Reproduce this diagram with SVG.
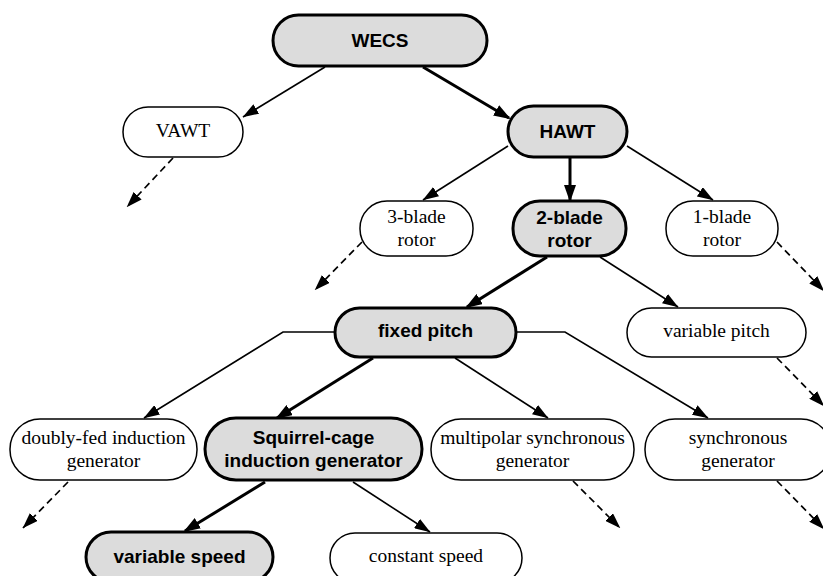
<svg xmlns="http://www.w3.org/2000/svg" width="823" height="576" viewBox="0 0 823 576">
  <defs>
    <marker id="head" viewBox="0 0 16 11" markerUnits="userSpaceOnUse" markerWidth="16" markerHeight="11" refX="15.5" refY="5.5" orient="auto">
      <path d="M0,0 L16,5.5 L0,11 Z" fill="#000"/>
    </marker>
    <marker id="headBold" viewBox="0 0 17 12" markerUnits="userSpaceOnUse" markerWidth="17" markerHeight="12" refX="15" refY="6" orient="auto">
      <path d="M0,0 L17,6 L0,12 Z" fill="#000"/>
    </marker>
  </defs>
  <style>
    .box { fill: #fff; stroke: #000; stroke-width: 1.5; }
    .key { fill: #dcdcdc; stroke: #000; stroke-width: 3; }
    .serif { font-family: "Liberation Serif", "Times New Roman", serif; font-size: 19.5px; fill: #000; text-anchor: middle; }
    .bold { font-family: "Liberation Sans", Arial, sans-serif; font-weight: bold; font-size: 19px; fill: #000; text-anchor: middle; }
    .thin { fill: none; stroke: #000; stroke-width: 1.6; marker-end: url(#head); }
    .thick { fill: none; stroke: #000; stroke-width: 3; marker-end: url(#headBold); }
    .open { fill: none; stroke: #000; stroke-width: 1.7; stroke-dasharray: 7 4.5; marker-end: url(#head); }
  </style>
  <rect width="823" height="576" fill="#fff"/>

  <!-- connectors -->
  <g id="connectors">
    <line class="thin" x1="325" y1="67" x2="243" y2="117"/>
    <line class="thick" x1="423" y1="67" x2="509" y2="118"/>
    <line class="open" x1="173" y1="158" x2="127" y2="207"/>
    <line class="thin" x1="508" y1="146" x2="423" y2="200"/>
    <line class="thick" x1="570" y1="157" x2="570" y2="200"/>
    <line class="thin" x1="627" y1="146" x2="713" y2="200"/>
    <line class="open" x1="362" y1="242" x2="315" y2="290"/>
    <line class="open" x1="777" y1="242" x2="824" y2="291"/>
    <line class="thick" x1="547" y1="257" x2="467" y2="307"/>
    <line class="thin" x1="600" y1="257" x2="678" y2="307"/>
    <polyline class="thin" points="335,332 283,332 144,418"/>
    <line class="thick" x1="373" y1="358" x2="277" y2="418"/>
    <line class="thin" x1="455" y1="358" x2="548" y2="418"/>
    <polyline class="thin" points="516,332 565,332 708,418"/>
    <line class="open" x1="777" y1="358" x2="824" y2="406"/>
    <line class="open" x1="68" y1="482" x2="23" y2="528"/>
    <line class="thick" x1="265" y1="482" x2="185" y2="531"/>
    <line class="thin" x1="353" y1="482" x2="430" y2="532"/>
    <line class="open" x1="573" y1="481" x2="620" y2="528"/>
    <line class="open" x1="777" y1="481" x2="824" y2="529"/>
  </g>

  <g id="wecs">
    <rect class="key" x="273" y="15" width="214" height="51" rx="25.5"/>
    <text class="bold" x="380" y="47">WECS</text>
  </g>
  <g id="vawt">
    <rect class="box" x="123" y="107" width="120" height="50" rx="25"/>
    <text class="serif" x="183" y="137">VAWT</text>
  </g>
  <g id="hawt">
    <rect class="key" x="508" y="106" width="119" height="51" rx="25.5"/>
    <text class="bold" x="567.5" y="137.5">HAWT</text>
  </g>
  <g id="rotor3">
    <rect class="box" x="360" y="201" width="113" height="55" rx="27"/>
    <text class="serif" x="416.5" y="222.5">3-blade</text>
    <text class="serif" x="416.5" y="245.5">rotor</text>
  </g>
  <g id="rotor2">
    <rect class="key" x="513" y="201" width="113" height="55" rx="27"/>
    <text class="bold" x="569.5" y="223.5">2-blade</text>
    <text class="bold" x="569.5" y="246.5">rotor</text>
  </g>
  <g id="rotor1">
    <rect class="box" x="666" y="201" width="112" height="55" rx="27"/>
    <text class="serif" x="722" y="222.5">1-blade</text>
    <text class="serif" x="722" y="245.5">rotor</text>
  </g>
  <g id="fixed-pitch">
    <rect class="key" x="335" y="308" width="181" height="49" rx="24.5"/>
    <text class="bold" x="425.5" y="336.5">fixed pitch</text>
  </g>
  <g id="variable-pitch">
    <rect class="box" x="627" y="308" width="179" height="49" rx="24.5"/>
    <text class="serif" x="716.5" y="337">variable pitch</text>
  </g>
  <g id="dfig">
    <rect class="box" x="10" y="419" width="187" height="61" rx="30"/>
    <text class="serif" x="103.5" y="443.5">doubly-fed induction</text>
    <text class="serif" x="103.5" y="466.5">generator</text>
  </g>
  <g id="scig">
    <rect class="key" x="205" y="418" width="217" height="62" rx="31"/>
    <text class="bold" x="313.5" y="444">Squirrel-cage</text>
    <text class="bold" x="313.5" y="467">induction generator</text>
  </g>
  <g id="multipolar">
    <rect class="box" x="431" y="419" width="203" height="61" rx="30"/>
    <text class="serif" x="532.5" y="443.5">multipolar synchronous</text>
    <text class="serif" x="532.5" y="466.5">generator</text>
  </g>
  <g id="synchronous">
    <rect class="box" x="645" y="419" width="186" height="61" rx="30"/>
    <text class="serif" x="738" y="443.5">synchronous</text>
    <text class="serif" x="738" y="466.5">generator</text>
  </g>
  <g id="variable-speed">
    <rect class="key" x="86" y="532" width="187" height="50" rx="25"/>
    <text class="bold" x="179.5" y="563">variable speed</text>
  </g>
  <g id="constant-speed">
    <rect class="box" x="330" y="533" width="192" height="50" rx="25"/>
    <text class="serif" x="426" y="562">constant speed</text>
  </g>
</svg>
